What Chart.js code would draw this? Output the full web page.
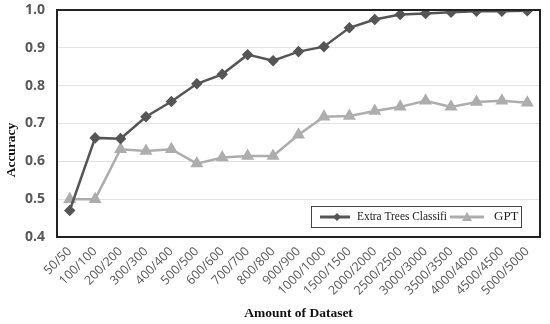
<!DOCTYPE html>
<html>
<head>
<meta charset="utf-8">
<script src="https://cdn.jsdelivr.net/npm/chart.js@4.4.1/dist/chart.umd.min.js"></script>
<style>
  html, body { margin: 0; padding: 0; background: #fff; }
  #wrap { width: 550px; height: 324px; }
</style>
</head>
<body>
<div id="wrap"><canvas id="accChart" width="550" height="324"></canvas></div>
<script>
const labels = ["50/50", "100/100", "200/200", "300/300", "400/400", "500/500", "600/600",
  "700/700", "800/800", "900/900", "1000/1000", "1500/1500", "2000/2000", "2500/2500",
  "3000/3000", "3500/3500", "4000/4000", "4500/4500", "5000/5000"];
const extraTrees = [0.47, 0.662, 0.66, 0.718, 0.758, 0.805, 0.83, 0.882, 0.866, 0.89,
  0.903, 0.953, 0.975, 0.988, 0.991, 0.994, 0.997, 0.997, 0.998];
const gpt = [0.5, 0.5, 0.632, 0.627, 0.632, 0.594, 0.61, 0.614, 0.614, 0.67,
  0.718, 0.72, 0.733, 0.744, 0.76, 0.744, 0.757, 0.76, 0.755];
const seriesNames = ["Extra Trees Classifi", "GPT"];
const yTitle = "Accuracy";

const DARK = "#555555";
const LIGHT = "#adadad";
const SERIF = "'Liberation Serif', 'DejaVu Serif', serif";

// frame round the plot, y title, legend box inside bottom right
const framePlugin = {
  id: "frameAndLegend",
  afterDraw(chart) {
    const { ctx, chartArea: { top, bottom, left, right } } = chart;
    ctx.save();
    ctx.strokeStyle = "#222";
    ctx.lineWidth = 2;
    ctx.strokeRect(left, top, right - left, bottom - top);

    // y axis title (sits lower than the axis middle in the original)
    ctx.save();
    ctx.translate(12, 150);
    ctx.rotate(-Math.PI / 2);
    ctx.fillStyle = "#111";
    ctx.font = "bold 13.5px " + SERIF;
    ctx.textAlign = "center";
    ctx.textBaseline = "middle";
    ctx.fillText(yTitle, 0, 0);
    ctx.restore();

    // legend
    const bx = right - 229, by = bottom - 31, bw = 210, bh = 21;
    ctx.fillStyle = "#fff";
    ctx.fillRect(bx, by, bw, bh);
    ctx.lineWidth = 1;
    ctx.strokeStyle = "#444";
    ctx.strokeRect(bx + 0.5, by + 0.5, bw, bh);
    const cy = by + bh / 2 + 0.5;

    ctx.lineWidth = 3;
    ctx.strokeStyle = DARK;
    ctx.beginPath(); ctx.moveTo(bx + 9, cy); ctx.lineTo(bx + 39, cy); ctx.stroke();
    ctx.fillStyle = DARK;
    ctx.beginPath();
    ctx.moveTo(bx + 26, cy - 4); ctx.lineTo(bx + 30, cy); ctx.lineTo(bx + 26, cy + 4); ctx.lineTo(bx + 22, cy);
    ctx.closePath(); ctx.fill();

    ctx.strokeStyle = LIGHT;
    ctx.beginPath(); ctx.moveTo(bx + 139, cy); ctx.lineTo(bx + 173, cy); ctx.stroke();
    ctx.fillStyle = LIGHT;
    ctx.beginPath();
    ctx.moveTo(bx + 156, cy - 5); ctx.lineTo(bx + 161, cy + 4); ctx.lineTo(bx + 151, cy + 4);
    ctx.closePath(); ctx.fill();

    ctx.fillStyle = "#222";
    ctx.font = "13px " + SERIF;
    ctx.textBaseline = "middle";
    ctx.fillText(seriesNames[0], bx + 46, cy, 90);
    ctx.fillText(seriesNames[1], bx + 183, cy);
    ctx.restore();
  }
};

new Chart(document.getElementById("accChart"), {
  type: "line",
  data: {
    labels: labels,
    datasets: [
      {
        label: seriesNames[0],
        data: extraTrees,
        borderColor: DARK,
        backgroundColor: DARK,
        borderWidth: 2.5,
        pointStyle: "rectRot",
        pointRadius: 4,
        pointHoverRadius: 4,
        tension: 0,
      },
      {
        label: seriesNames[1],
        data: gpt,
        borderColor: LIGHT,
        backgroundColor: LIGHT,
        borderWidth: 2.5,
        pointStyle: "triangle",
        pointRadius: 5,
        pointHoverRadius: 5,
        tension: 0,
      },
    ],
  },
  plugins: [framePlugin],
  options: {
    responsive: false,
    animation: false,
    layout: { padding: { left: 4, right: 10, top: 10, bottom: 2 } },
    plugins: { legend: { display: false }, tooltip: { enabled: false } },
    scales: {
      x: {
        offset: true,
        grid: { display: false, drawTicks: false },
        border: { display: false },
        ticks: {
          minRotation: 45,
          maxRotation: 45,
          autoSkip: false,
          padding: 7,
          color: "#595959",
          font: { family: "'Open Sans', 'DejaVu Sans', sans-serif", size: 12.5 },
        },
        title: {
          display: true,
          text: "Amount of Dataset",
          color: "#111",
          font: { family: SERIF, size: 13.5, weight: "bold" },
          padding: { top: 0, bottom: 0 },
        },
        afterFit(scale) { scale.height = 85; scale.paddingRight = 0; },
      },
      y: {
        min: 0.4,
        max: 1.0,
        grid: { color: "#e3e3e3", drawTicks: false },
        border: { display: false },
        ticks: {
          stepSize: 0.1,
          padding: 12,
          color: "#595959",
          font: { family: "'Open Sans', 'DejaVu Sans', sans-serif", size: 14, weight: "bold" },
          callback: (v) => v.toFixed(1),
        },
        afterFit(scale) { scale.width = 53; scale.paddingTop = 0; scale.paddingBottom = 0; },
      },
    },
  },
});
</script>
</body>
</html>
